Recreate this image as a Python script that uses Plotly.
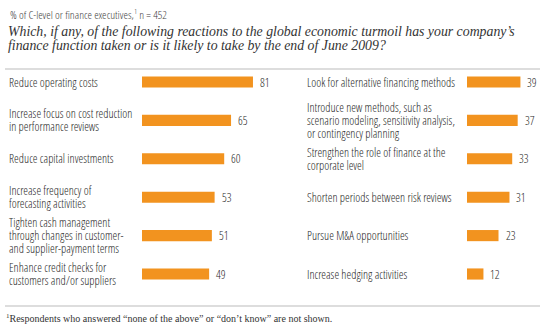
import plotly.graph_objects as go

W, H = 545, 332

left_labels = [
    ["Reduce operating costs"],
    ["Increase focus on cost reduction", "in performance reviews"],
    ["Reduce capital investments"],
    ["Increase frequency of", "forecasting activities"],
    ["Tighten cash management", "through changes in customer-", "and supplier-payment terms"],
    ["Enhance credit checks for", "customers and/or suppliers"],
]
left_values = [81, 65, 60, 53, 51, 49]

right_labels = [
    ["Look for alternative financing methods"],
    ["Introduce new methods, such as", "scenario modeling, sensitivity analysis,", "or contingency planning"],
    ["Strengthen the role of finance at the", "corporate level"],
    ["Shorten periods between risk reviews"],
    ["Pursue M&A opportunities"],
    ["Increase hedging activities"],
]
right_values = [39, 37, 33, 31, 23, 12]

subtitle = "% of C-level or finance executives,<sup>1</sup> n = 452"
question_lines = [
    "Which, if any, of the following reactions to the global economic turmoil has your company’s",
    "finance function taken or is it likely to take by the end of June 2009?",
]
footnote = "<sup>1</sup>Respondents who answered “none of the above” or “don’t know” are not shown."

ORANGE = "#F2931F"
TXT = "#2a2a2a"
SANS = "Open Sans Condensed Light, Open Sans Condensed, Liberation Sans, sans-serif"
SERIF = "Liberation Serif, DejaVu Serif, serif"
LBL_SIZE = 12
LINE_PX = 13.0

px_per_unit = 1.37
row0, row_step = 82.0, 38.4
ytop = -row0 / row_step
ybot = (H - row0) / row_step

lx0, lx1 = 142, 300
rx0, rx1 = 467, 545

fig = go.Figure()
ypos = list(range(6))
fig.add_trace(go.Bar(x=left_values, y=ypos, orientation="h", marker_color=ORANGE,
                     marker_line_width=0, width=0.29, xaxis="x", yaxis="y", hoverinfo="skip"))
fig.add_trace(go.Bar(x=right_values, y=ypos, orientation="h", marker_color=ORANGE,
                     marker_line_width=0, width=0.29, xaxis="x2", yaxis="y", hoverinfo="skip"))

ann = []


def add_label(lines, xpx, i):
    n = len(lines)
    for k, line in enumerate(lines):
        off = (k - (n - 1) / 2) * LINE_PX
        ann.append(dict(text=line, x=xpx / W, xref="paper", y=i, yref="y", yshift=-off,
                        xanchor="left", yanchor="middle", showarrow=False, borderpad=0,
                        font=dict(family=SANS, size=LBL_SIZE, color=TXT)))


for i, (lab, v) in enumerate(zip(left_labels, left_values)):
    add_label(lab, 8, i)
    ann.append(dict(text=str(v), x=v, xref="x", y=i, yref="y", xanchor="left",
                    xshift=5, showarrow=False, font=dict(family=SANS, size=LBL_SIZE, color=TXT)))
for i, (lab, v) in enumerate(zip(right_labels, right_values)):
    add_label(lab, 306, i)
    ann.append(dict(text=str(v), x=v, xref="x2", y=i, yref="y", xanchor="left",
                    xshift=5, showarrow=False, font=dict(family=SANS, size=LBL_SIZE, color=TXT)))

ann.append(dict(text=subtitle, x=8 / W, y=1 - 14 / H, xref="paper", yref="paper",
                xanchor="left", yanchor="middle", showarrow=False,
                font=dict(family=SANS, size=11.5, color="#444444")))
for k, q in enumerate(question_lines):
    ann.append(dict(text="<i>" + q + "</i>", x=7 / W, y=1 - (31 + 14 * k) / H, xref="paper",
                    yref="paper", xanchor="left", yanchor="middle", showarrow=False,
                    borderpad=0, font=dict(family=SERIF, size=13.8, color="#333333")))
ann.append(dict(text=footnote, x=4 / W, y=1 - 318 / H, xref="paper", yref="paper",
                xanchor="left", yanchor="middle", showarrow=False,
                font=dict(family=SERIF, size=10, color="#333333")))

shapes = [
    dict(type="line", xref="paper", yref="paper", x0=5 / W, x1=540 / W,
         y0=1 - 69 / H, y1=1 - 69 / H, line=dict(color="#bbbbbb", width=1)),
    dict(type="line", xref="paper", yref="paper", x0=5 / W, x1=540 / W,
         y0=1 - 306 / H, y1=1 - 306 / H, line=dict(color="#bbbbbb", width=1)),
]

fig.update_layout(
    width=W, height=H, margin=dict(l=0, r=0, t=0, b=0),
    paper_bgcolor="white", plot_bgcolor="white", showlegend=False,
    xaxis=dict(domain=[lx0 / W, lx1 / W], range=[0, (lx1 - lx0) / px_per_unit],
               visible=False, fixedrange=True),
    xaxis2=dict(domain=[rx0 / W, rx1 / W], range=[0, (rx1 - rx0) / px_per_unit],
                visible=False, fixedrange=True, anchor="y"),
    yaxis=dict(domain=[0, 1], range=[ybot, ytop], visible=False, fixedrange=True),
    annotations=ann, shapes=shapes,
)

fig.write_html("out.html")
